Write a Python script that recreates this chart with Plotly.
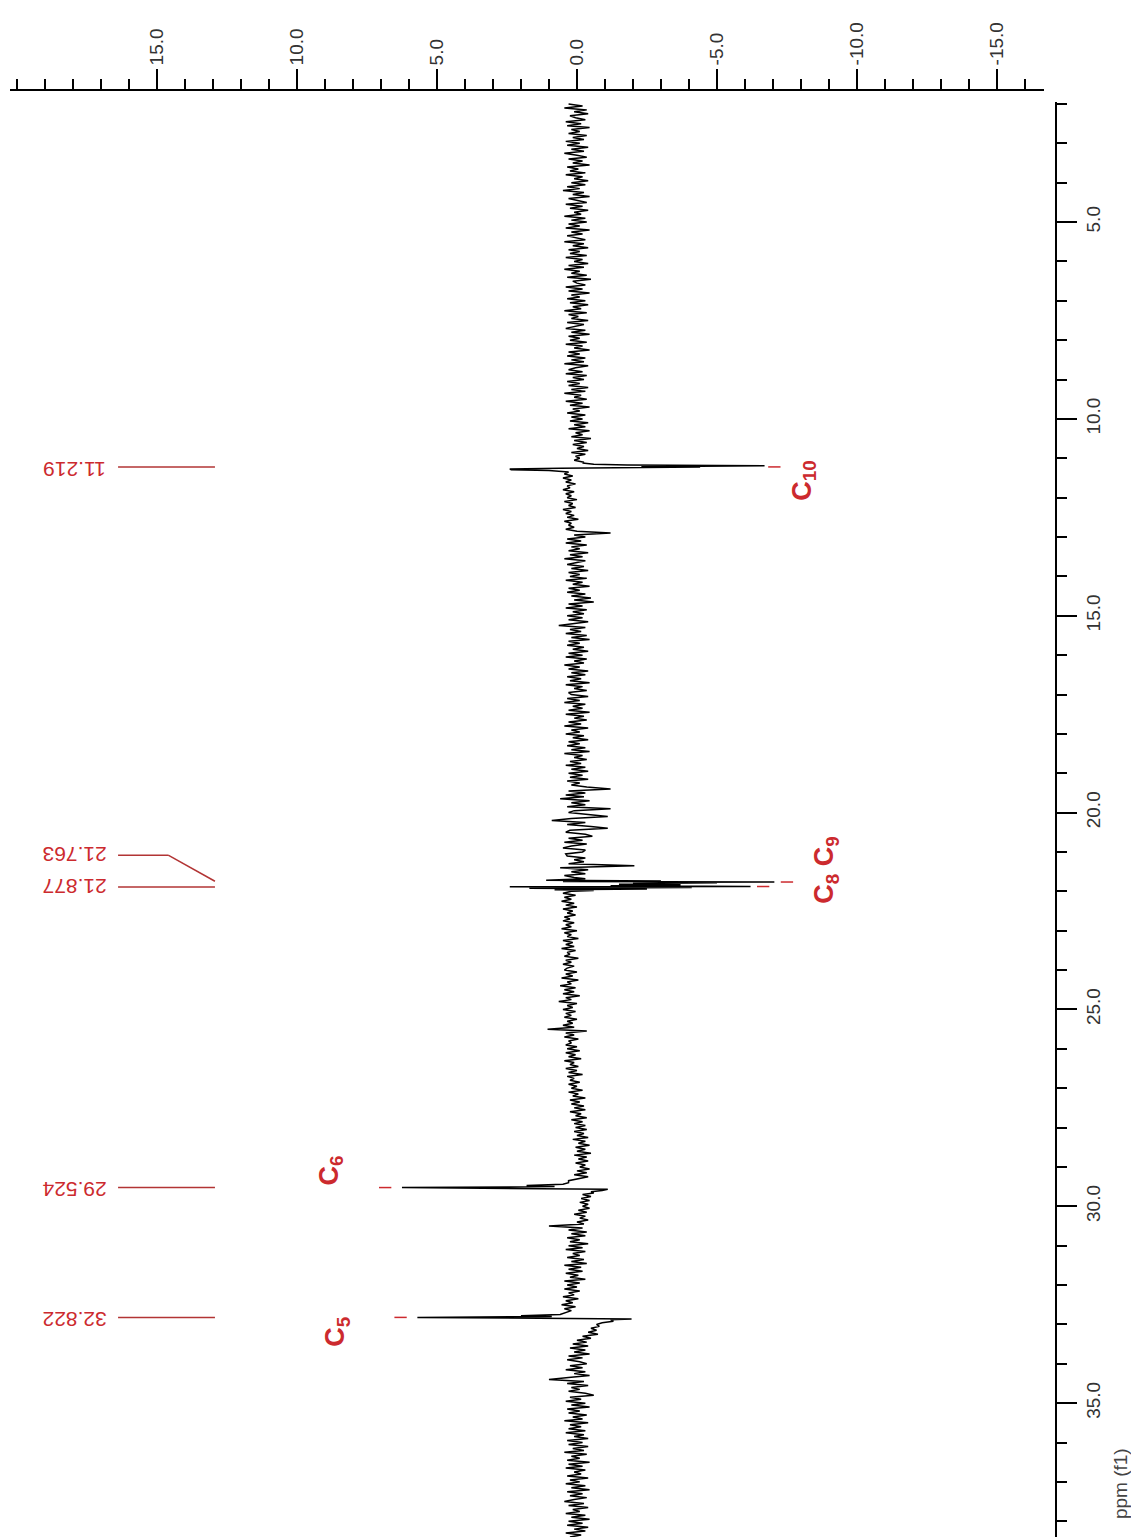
import numpy as np
import plotly.graph_objects as go

# ---------------- data ----------------
# baseline (noise) intensities read on a 0.05 ppm grid starting at 2.0 ppm
ppm_start = 2.0
ppm_step = 0.05
baseline = [
    0.3, -0.2, 0.45, -0.35, 0.1, -0.4, 0.25, 0.05, -0.3, 0.4, -0.15, 0.35, -0.45, 0.2, -0.1, 0.3, -0.35, 0.15, -0.25, 0.4,   # 2
    -0.1, 0.35, -0.4, 0.2, -0.25, 0.45, 0.0, -0.35, 0.3, -0.2, 0.15, -0.45, 0.35, -0.05, 0.25, -0.3, 0.4, -0.2, 0.1, -0.4,  # 3
    0.2, -0.3, 0.35, -0.1, 0.5, -0.25, 0.15, -0.45, 0.3, 0.0, -0.35, 0.4, -0.2, 0.25, -0.4, 0.1, -0.15, 0.45, -0.3, 0.2,    # 4
    -0.35, 0.3, -0.1, 0.4, -0.45, 0.2, -0.2, 0.35, 0.05, -0.3, 0.45, -0.25, 0.15, -0.4, 0.3, -0.1, 0.25, -0.35, 0.4, -0.2,  # 5
    0.1, -0.4, 0.3, -0.25, 0.45, -0.1, 0.2, -0.35, 0.35, -0.5, 0.15, 0.0, -0.3, 0.4, -0.2, 0.3, -0.45, 0.2, -0.1, 0.35,     # 6
    -0.3, 0.25, -0.4, 0.15, -0.15, 0.45, -0.35, 0.3, -0.05, 0.2, -0.4, 0.35, -0.25, 0.1, 0.4, -0.3, 0.2, -0.45, 0.3, -0.1,  # 7
    0.25, -0.35, 0.4, -0.2, 0.1, -0.45, 0.3, -0.1, 0.35, -0.3, 0.2, -0.25, 0.45, -0.4, 0.05, 0.3, -0.2, 0.4, -0.35, 0.15,   # 8
    -0.25, 0.35, -0.1, 0.3, -0.4, 0.2, -0.3, 0.45, -0.15, 0.1, -0.35, 0.4, -0.2, 0.25, -0.45, 0.15, -0.1, 0.35, -0.3, 0.2,  # 9
    -0.2, 0.25, -0.4, 0.1, -0.3, 0.3, -0.45, 0.05, -0.2, 0.2, -0.5, 0.1, -0.35, 0.15, -0.25, 0.0, -0.4, 0.2, -0.3, 0.05,    # 10
    -0.1, 0.1, -0.25, 0.0, 0.0, 0.0, 0.0, 0.3, 0.45, 0.15, 0.5, 0.2, 0.4, 0.05, 0.35, 0.25, 0.5, 0.1, 0.4, 0.2,             # 11
    0.35, 0.0, 0.45, 0.15, 0.3, 0.05, 0.5, 0.2, 0.4, 0.1, 0.35, -0.05, 0.45, 0.2, 0.3, 0.1, 0.4, 0.0, -1.2, 0.1,            # 12
    -0.3, 0.35, -0.15, 0.4, -0.35, 0.2, -0.1, 0.3, -0.4, 0.25, -0.2, 0.45, -0.3, 0.1, 0.35, -0.25, 0.2, -0.4, 0.3, -0.1,    # 13
    0.25, -0.35, 0.4, -0.2, 0.15, -0.45, 0.3, -0.1, 0.35, -0.3, 0.2, -0.5, 0.1, -0.6, 0.3, -0.2, 0.4, -0.35, 0.15, -0.25,   # 14
    0.35, -0.2, 0.3, -0.4, 0.1, 0.65, -0.3, 0.25, -0.15, 0.4, -0.35, 0.2, -0.45, 0.3, -0.1, 0.35, -0.25, 0.15, -0.4, 0.3,   # 15
    -0.2, 0.4, -0.35, 0.1, -0.25, 0.45, -0.1, 0.3, -0.4, 0.2, -0.3, 0.35, -0.15, 0.25, -0.45, 0.4, -0.2, 0.1, -0.35, 0.3,   # 16
    0.2, -0.4, 0.35, -0.1, 0.45, -0.3, 0.15, -0.2, 0.3, -0.45, 0.4, -0.25, 0.1, -0.35, 0.3, -0.15, 0.45, -0.4, 0.2, -0.1,   # 17
    0.4, -0.25, 0.15, -0.4, 0.3, -0.1, 0.35, -0.3, 0.2, -0.45, 0.45, -0.2, 0.1, -0.35, 0.25, -0.15, 0.4, -0.3, 0.2, -0.4,   # 18
    0.3, -0.2, 0.25, -0.4, 0.35, -0.1, 0.2, -0.35, -1.2, 0.3, -0.3, 0.4, -0.25, 0.6, -0.45, 0.2, -0.3, 0.35, -1.2, 0.1,     # 19
    0.3, -0.4, -1.1, 0.2, 0.9, -0.3, 0.35, -0.5, -1.1, 0.25, 0.4, -0.3, -0.55, 0.3, -0.2, 0.45, -0.35, 0.2, 0.5, -0.3,      # 20
    -0.2, 0.4, 0.35, -0.3, 0.1, -0.25, 0.3, -2.05, 0.6, -0.4, 0.2, -0.3, 0.45, 0.1, 0.0, 0.0, 0.0, 0.0, 0.0, 0.0,           # 21
    0.2, 0.5, 0.05, 0.45, 0.2, 0.55, 0.1, 0.4, 0.0, 0.5, 0.15, 0.35, 0.05, 0.45, 0.25, 0.5, 0.1, 0.4, 0.2, 0.55,            # 22
    0.0, 0.45, 0.2, 0.35, -0.05, 0.5, 0.15, 0.4, 0.1, 0.55, 0.05, 0.35, 0.25, 0.45, -0.05, 0.4, 0.2, 0.5, 0.1, 0.35,        # 23
    0.45, 0.0, 0.4, 0.15, 0.55, -0.05, 0.35, 0.2, 0.6, 0.05, 0.45, 0.1, 0.5, -0.1, 0.4, 0.2, 0.65, 0.0, 0.35, 0.15,         # 24
    0.5, 0.05, 0.4, 0.2, 0.45, 0.0, 0.35, 0.15, 0.5, 0.1, 1.05, -0.35, 0.4, 0.1, 0.45, -0.05, 0.3, 0.2, 0.4, 0.0,           # 25
    0.35, -0.1, 0.4, 0.05, 0.3, -0.15, 0.45, 0.1, 0.25, -0.05, 0.4, 0.0, 0.3, -0.2, 0.35, 0.1, 0.25, -0.1, 0.3, 0.0,        # 26
    0.2, -0.2, 0.3, -0.05, 0.15, -0.3, 0.25, -0.1, 0.2, -0.25, 0.1, -0.3, 0.25, -0.15, 0.05, -0.35, 0.2, -0.2, 0.1, -0.3,   # 27
    0.05, -0.35, 0.1, -0.25, 0.0, -0.4, 0.15, -0.3, -0.05, -0.45, 0.05, -0.3, 0.0, -0.5, 0.1, -0.35, -0.05, -0.4, 0.05, -0.3,  # 28
    -0.1, -0.45, 0.0, -0.35, 0.1, -0.4, -0.05, 0.3, 0.0, 0.0, 0.0, 0.0, 0.0, 0.0, -0.2, -0.5, -0.15, -0.45, -0.1, -0.4,     # 29
    -0.2, -0.45, -0.05, -0.35, 0.1, -0.3, -0.1, -0.4, 0.0, -0.25, 1.0, -0.2, 0.3, -0.35, 0.2, -0.3, 0.35, -0.1, 0.25, -0.4, # 30
    0.3, -0.2, 0.4, -0.3, 0.15, -0.1, 0.35, -0.25, 0.2, -0.35, 0.45, -0.15, 0.3, -0.2, 0.4, -0.05, 0.25, -0.3, 0.45, -0.1,  # 31
    0.35, 0.0, 0.45, -0.1, 0.3, 0.1, 0.5, -0.05, 0.4, 0.15, 0.55, 0.05, 0.45, 0.2, 0.0, 0.0, 0.0, 0.0, 0.0, 0.0,            # 32
    0.0, 0.0, 0.0, -0.7, -0.4, -0.75, -0.2, -0.5, 0.0, -0.35, 0.15, -0.4, 0.25, -0.3, 0.1, -0.45, 0.3, -0.2, 0.35, -0.1,    # 33
    -0.35, 0.25, -0.2, 0.4, -0.3, 0.1, -0.45, 0.3, 1.0, -0.25, 0.35, -0.4, 0.2, -0.1, 0.3, -0.3, -0.6, 0.25, -0.15, 0.4,    # 34
    -0.3, 0.2, -0.45, 0.35, -0.1, 0.3, -0.35, 0.15, -0.2, 0.45, -0.4, 0.25, -0.15, 0.3, -0.3, 0.4, -0.25, 0.1, -0.4, 0.35,  # 35
    -0.2, 0.3, -0.4, 0.15, -0.25, 0.45, -0.35, 0.2, -0.1, 0.35, -0.45, 0.3, -0.2, 0.4, -0.3, 0.1, -0.15, 0.35, -0.4, 0.25,  # 36
    -0.1, 0.4, -0.3, 0.2, -0.45, 0.35, -0.2, 0.25, -0.35, 0.1, 0.45, -0.25, 0.3, -0.4, 0.15, -0.1, 0.4, -0.3, 0.2, -0.45,   # 37
    0.3, -0.2, 0.35, -0.4, 0.1, -0.3, 0.4, -0.15, 0.25, -0.35,                                                              # 38
]

# peak regions (ppm, intensity)
c10_ppm = [11.12, 11.15, 11.17, 11.19, 11.20, 11.21, 11.22, 11.23, 11.25, 11.27, 11.29, 11.31, 11.33]
c10_int = [-0.2, -0.6, -1.8, -6.7, -4.4, -2.3, -4.4, -1.0, 0.6, 2.4, 2.35, 1.0, 0.4]

c89_ppm = [21.68, 21.72, 21.74, 21.75, 21.763, 21.77, 21.78, 21.79, 21.80, 21.81, 21.82,
           21.83, 21.84, 21.85, 21.86, 21.877, 21.885, 21.90, 21.92, 21.94, 21.96, 21.98]
c89_int = [-0.3, 1.1, -3.0, 0.5, -7.05, -3.5, -5.0, -3.7, -2.0, -3.6, -1.5,
           -3.7, -2.5, -3.6, -1.2, -6.2, 2.4, -4.1, 1.7, -2.5, 0.8, -0.6]

c6_ppm = [29.40, 29.44, 29.47, 29.50, 29.524, 29.55, 29.57, 29.60, 29.63, 29.66]
c6_int = [0.3, 0.5, 1.8, 0.8, 6.25, 0.2, -1.1, -0.9, -0.5, -0.6]

c5_ppm = [32.70, 32.75, 32.78, 32.80, 32.822, 32.84, 32.86, 32.88, 32.92, 32.96, 33.00, 33.05, 33.10]
c5_int = [0.4, 0.6, 2.0, 0.9, 5.7, 0.5, -1.95, -1.2, -1.3, -0.9, -0.7, -0.8, -0.5]

# peak picking labels
peak_label_text = ["11.219", "21.763", "21.877", "29.524", "32.822"]
peak_label_ppm = [11.219, 21.763, 21.877, 29.524, 32.822]

# assignments
carbon_label_text = ["C<sub>10</sub>", "C<sub>8</sub> C<sub>9</sub>", "C<sub>6</sub>", "C<sub>5</sub>"]
carbon_mark_ppm = [11.219, 21.763, 21.877, 29.524, 32.822]
carbon_mark_int = [-7.05, -7.5, -6.65, 6.85, 6.3]

# axes ticks
int_tick_vals = [15, 10, 5, 0, -5, -10, -15]
int_tick_text = ["15.0", "10.0", "5.0", "0.0", "-5.0", "-10.0", "-15.0"]
ppm_tick_vals = [5, 10, 15, 20, 25, 30, 35]
ppm_tick_text = ["5.0", "10.0", "15.0", "20.0", "25.0", "30.0", "35.0"]

# ---------------- assemble spectrum ----------------
grid_ppm = np.round(ppm_start + ppm_step * np.arange(len(baseline)), 3)
grid_int = np.array(baseline, dtype=float)
peaks = [(c10_ppm, c10_int), (c89_ppm, c89_int), (c6_ppm, c6_int), (c5_ppm, c5_int)]
keep = np.ones(len(grid_ppm), dtype=bool)
for pp, _ in peaks:
    keep &= ~((grid_ppm >= round(min(pp) - 0.01, 3)) & (grid_ppm <= round(max(pp) + 0.01, 3)))
all_ppm = list(grid_ppm[keep])
all_int = list(grid_int[keep])
for pp, ii in peaks:
    all_ppm += list(pp)
    all_int += list(ii)
order = np.argsort(all_ppm)
spec_ppm = np.array(all_ppm)[order]
spec_int = np.array(all_int)[order]

fig = go.Figure()
fig.add_trace(go.Scatter(x=spec_int, y=spec_ppm, mode="lines",
                         line=dict(color="black", width=1.5), hoverinfo="skip"))

RED_T = "#cc2a2e"
RED_L = "#b23434"
FONT = "Liberation Sans, Arial, sans-serif"

# peak label lines and texts (upside-down, as in the rotated original)
x_text = 17.95
x_l0, x_l1, x_lmid = 16.39, 12.93, 14.6
text_ppm = [11.30, 21.08, 21.89, 29.59, 32.89]
line_ppm = [11.219, 21.08, 21.89, 29.524, 32.822]
for lab, tp in zip(peak_label_text, text_ppm):
    fig.add_annotation(x=x_text, y=tp, xref="x", yref="y", text=lab, showarrow=False,
                       textangle=180, font=dict(family=FONT, size=21, color=RED_T),
                       xanchor="center", yanchor="middle")
for i, lp in enumerate(line_ppm):
    if i == 1:
        fig.add_shape(type="line", x0=x_l0, x1=x_lmid, y0=lp, y1=lp, xref="x", yref="y",
                      line=dict(color=RED_L, width=1.5))
        fig.add_shape(type="line", x0=x_lmid, x1=x_l1, y0=lp, y1=peak_label_ppm[1] - 0.02, xref="x", yref="y",
                      line=dict(color=RED_L, width=1.5))
    else:
        fig.add_shape(type="line", x0=x_l0, x1=x_l1, y0=lp, y1=lp, xref="x", yref="y",
                      line=dict(color=RED_L, width=1.5))

# small red peak marks
for mp, mi in zip(carbon_mark_ppm, carbon_mark_int):
    d = 0.22 if mi > 0 else -0.22
    fig.add_shape(type="line", x0=mi - d, x1=mi + d, y0=mp, y1=mp, xref="x", yref="y",
                  line=dict(color=RED_T, width=1.5))

# carbon assignments
carbon_pos_int = [-8.1, -8.9, 8.8, 8.55]
carbon_pos_ppm = [11.55, 21.45, 29.1, 33.2]
for lab, xi, yp in zip(carbon_label_text, carbon_pos_int, carbon_pos_ppm):
    fig.add_annotation(x=xi, y=yp, xref="x", yref="y", text="<b>" + lab + "</b>", showarrow=False,
                       textangle=-90, font=dict(family=FONT, size=27, color=RED_T),
                       xanchor="center", yanchor="middle")

fig.add_annotation(x=1.0612, y=0.0366, xref="paper", yref="paper", text="ppm (f1)", showarrow=False,
                   textangle=-90, font=dict(family=FONT, size=19, color="#444"),
                   xanchor="center", yanchor="middle")

axis_common = dict(showgrid=False, zeroline=False, showline=True, linecolor="black", linewidth=1.5,
                   ticks="outside", ticklen=20, tickwidth=1.5, tickcolor="black",
                   tickangle=-90, tickmode="array",
                   tickfont=dict(family=FONT, size=19, color="#333"),
                   minor=dict(tickmode="linear", tick0=0, dtick=1, ticks="outside", ticklen=10,
                              tickwidth=1.5, tickcolor="black", showgrid=False))

# page body has an 8 px margin, so margins are shifted accordingly
fig.update_layout(
    width=1139, height=1537,
    margin=dict(l=2, r=91, t=82, b=8),
    plot_bgcolor="white", paper_bgcolor="white", showlegend=False,
    xaxis=dict(domain=[0, 0.9885], anchor="free", position=1.0, side="top",
               range=[20.25, -16.68], tickvals=int_tick_vals, ticktext=int_tick_text, **axis_common),
    yaxis=dict(domain=[0, 0.9917], anchor="free", position=1.0, side="right",
               range=[38.40, 1.95], tickvals=ppm_tick_vals, ticktext=ppm_tick_text, **axis_common),
)

fig.write_html("out.html")
